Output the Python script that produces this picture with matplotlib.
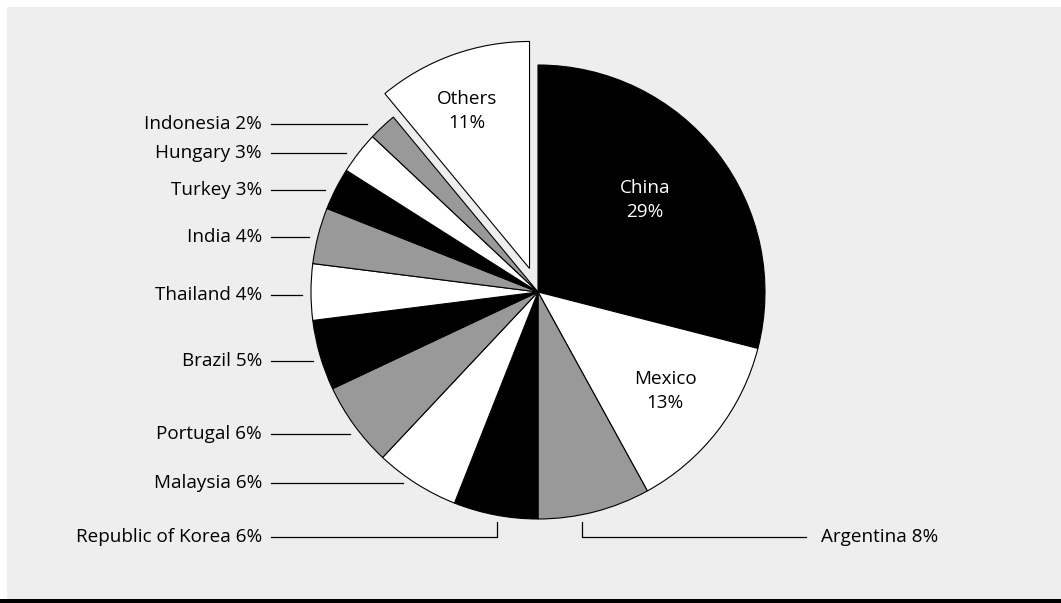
import matplotlib
matplotlib.use("Agg")
import matplotlib.pyplot as plt
from matplotlib.patches import Rectangle

# Shares by country (percent), clockwise from 12 o'clock
countries = ["China", "Mexico", "Argentina", "Republic of Korea", "Malaysia",
             "Portugal", "Brazil", "Thailand", "India", "Turkey", "Hungary",
             "Indonesia", "Others"]
shares = [29, 13, 8, 6, 6, 6, 5, 4, 4, 3, 3, 2, 11]

BLACK, WHITE, GREY = "#000000", "#ffffff", "#999999"
fills = [BLACK, WHITE, GREY, BLACK, WHITE, GREY, BLACK, WHITE, GREY,
         BLACK, WHITE, GREY, WHITE]

plt.rcParams["font.family"] = ["Open Sans", "DejaVu Sans"]
FS = 13.6

W, H = 1061, 603
fig = plt.figure(figsize=(W / 100, H / 100), dpi=100, facecolor="white")
ax = fig.add_axes([0, 0, 1, 1])


def Y(y):
    """Convert a top-down pixel row into axis units."""
    return H - y


# Pie geometry (pixel units)
cx, cy, R = 538, Y(292), 227
explode = [0] * (len(shares) - 1) + [25]

ax.pie(shares, colors=fills, startangle=90, counterclock=False,
       center=(cx, cy), radius=R, explode=explode,
       wedgeprops=dict(edgecolor="black", linewidth=0.8, antialiased=True))

ax.set_xlim(0, W)
ax.set_ylim(0, H)
ax.set_aspect("equal")
ax.axis("off")

# Panel background and bottom rule
ax.add_patch(Rectangle((7, Y(599)), W - 7, 592, facecolor="#eeeeee",
                       edgecolor="none", zorder=-2))
ax.add_patch(Rectangle((0, 0), W, 4, facecolor="black", edgecolor="none",
                       zorder=-1))

# Labels inside the large wedges
inner = {"China": (645, 200, WHITE), "Mexico": (665, 391, BLACK),
         "Others": (467, 111, BLACK)}
for name, (x, y, col) in inner.items():
    i = countries.index(name)
    ax.text(x, Y(y), f"{name}\n{shares[i]}%", ha="center", va="center",
            color=col, fontsize=FS, linespacing=1.45)

# Left-hand callouts: label row and where the leader stops
left_callouts = {
    "Indonesia": (124, 367), "Hungary": (153, 346), "Turkey": (190, 325),
    "India": (237, 309), "Thailand": (295, 302), "Brazil": (361, 313),
    "Portugal": (434, 350), "Malaysia": (483, 403),
}
TEXT_RIGHT, LINE_START = 262, 271
for name, (y, xend) in left_callouts.items():
    i = countries.index(name)
    ax.text(TEXT_RIGHT, Y(y), f"{name} {shares[i]}%", ha="right",
            va="center", fontsize=FS)
    ax.plot([LINE_START, xend], [Y(y), Y(y)], color="black", lw=0.9)

# Bottom callouts with elbow leaders
ky = 537
i = countries.index("Republic of Korea")
ax.text(TEXT_RIGHT, Y(ky), f"{countries[i]} {shares[i]}%", ha="right",
        va="center", fontsize=FS)
ax.plot([LINE_START, 497, 497], [Y(ky), Y(ky), Y(522)], color="black", lw=0.9)

i = countries.index("Argentina")
ax.text(821, Y(ky), f"{countries[i]} {shares[i]}%", ha="left",
        va="center", fontsize=FS)
ax.plot([806, 582, 582], [Y(ky), Y(ky), Y(522)], color="black", lw=0.9)

fig.savefig("out.png", dpi=100, facecolor=fig.get_facecolor())
